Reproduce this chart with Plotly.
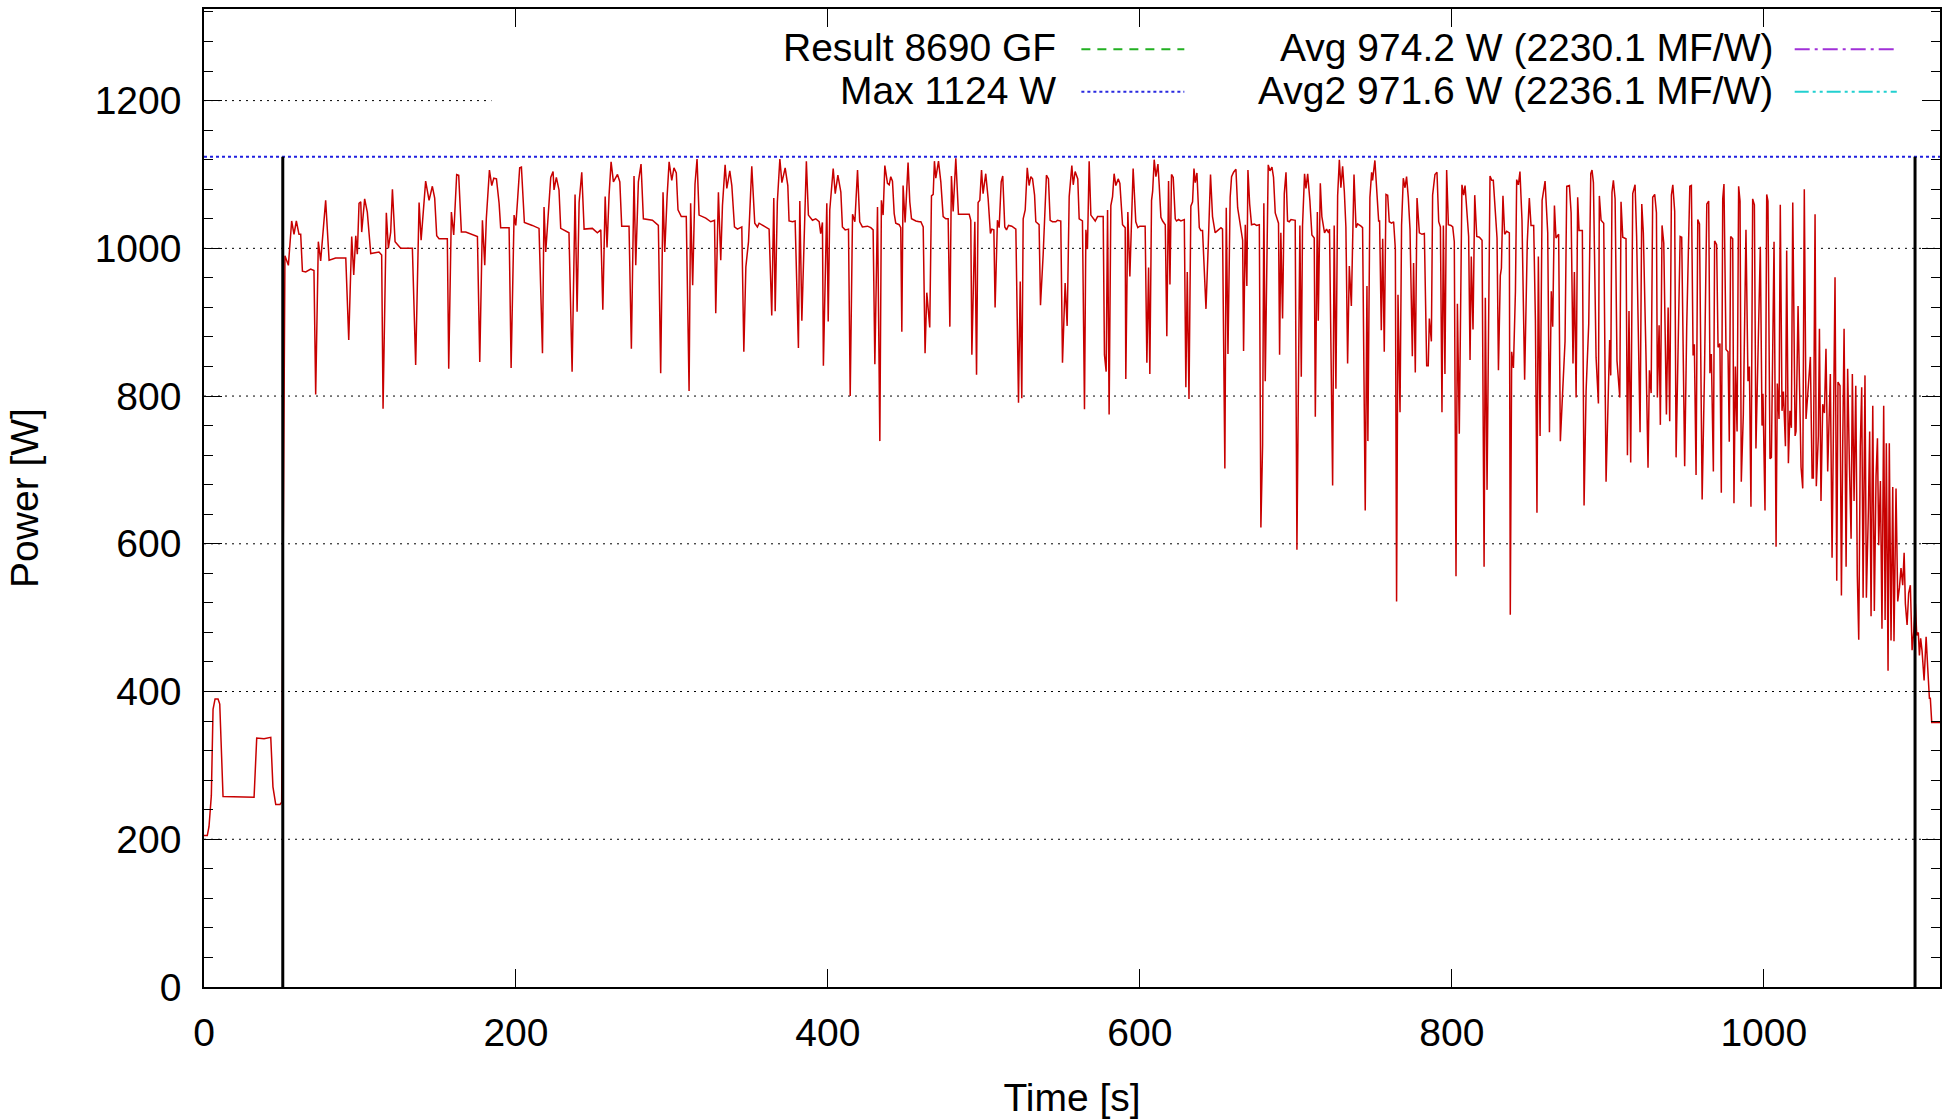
import plotly.graph_objects as go

# ---------------- data ----------------
time_s = [
    0, 2.1, 3.2, 4.7, 5.8, 7.1, 9.0, 10.1, 12.2, 32.1, 33.8, 38.5, 42.8, 44.2, 46.0, 48.7, 49.8,
    51.9, 54.1, 56.2, 57.7, 59.2, 60.9, 62.0, 63.1, 65.2, 68.4, 70.5, 71.6, 73.3, 74.8, 78.0, 80.2,
    84.4, 90.9, 92.8, 94.7, 96.0, 97.3, 98.3, 99.4, 100.5, 101.1, 103.0, 104.7, 106.9, 112.2, 113.9,
    114.8, 116.9, 118.2, 119.7, 120.8, 122.5, 126.1, 133.6, 135.7, 137.9, 139.2, 140.4, 142.1, 144.3,
    146.4, 147.9, 149.2, 150.7, 156.0, 156.9, 158.6, 160.1, 162.0, 163.3, 165.0, 167.8, 175.3, 176.8,
    178.5, 180.0, 181.0, 183.0, 184.5, 185.8, 187.5, 189.2, 190.2, 195.6, 196.9, 198.8, 199.9, 200.9,
    202.4, 203.5, 205.4, 210.5, 214.8, 217.0, 218.0, 219.1, 220.8, 222.3, 223.8, 224.4, 225.9, 227.6,
    228.7, 231.9, 234.0, 236.0, 237.9, 239.2, 240.5, 242.2, 243.7, 249.0, 252.2, 254.4, 255.7, 257.2,
    258.4, 259.7, 261.0, 262.5, 265.1, 266.6, 267.8, 272.5, 274.0, 275.7, 276.8, 278.5, 280.2, 281.7,
    287.5, 291.3, 292.8, 294.3, 295.4, 296.9, 298.2, 299.9, 301.3, 302.8, 303.9, 306.0, 309.2, 311.0,
    312.0, 313.3, 314.8, 316.1,
    317.4, 321.7, 324.9, 327.3, 328.1, 329.8, 331.3, 332.4, 334.1, 335.2, 337.1, 338.4, 340.1, 342.0,
    344.8, 346.1, 347.4, 349.1, 351.2, 353.1, 354.8, 355.9, 358.0, 360.2, 362.3, 364.0, 365.3, 366.2,
    367.6, 369.2, 370.5, 372.6, 374.3, 375.1, 377.3, 379.0, 381.1, 382.0, 383.3, 386.2, 387.5, 390.1,
    392.2, 394.4, 395.4, 396.5, 397.1, 399.3, 400.2, 401.2, 403.4, 404.7, 406.4, 408.3, 409.3, 411.1,
    413.2, 414.3, 415.8, 417.3, 419.0,
    420.4, 422.1, 425.4, 427.5, 429.0, 430.1, 431.8, 433.3, 434.3, 435.4, 436.5, 438.2, 439.3, 440.3,
    441.4, 442.5, 443.5, 445.7, 446.7, 447.4, 448.2, 449.5, 451.4, 452.5, 453.6, 456.4, 458.5, 459.6,
    461.1, 462.3, 463.4, 465.3, 466.4, 467.5, 468.3, 469.2, 470.9, 472.4, 473.9, 475.6, 477.1, 478.2,
    479.2, 480.3, 482.0, 483.7, 486.3, 490.6, 491.6, 492.3, 494.2, 495.3, 496.3, 497.4, 498.5, 499.5,
    501.2, 502.7, 504.2, 505.1, 506.4, 507.2, 508.7, 509.8, 511.1, 512.1, 513.4, 514.5, 515.8, 517.9,
    520.5, 522.2, 523.3, 524.3, 525.2, 526.5, 527.8, 529.0, 530.1, 531.2, 532.5, 533.3, 535.4, 536.3,
    538.0, 540.1, 541.4, 542.5, 544.0, 546.1, 547.2, 549.3, 550.4, 552.1, 553.4, 554.7, 556.4, 557.3,
    558.5, 560.2, 561.1, 563.2, 564.5, 565.4, 566.4, 567.5, 568.6, 571.4, 572.9, 576.5, 577.3, 578.4,
    579.3, 580.3, 581.4, 582.5, 583.5, 584.6, 586.1, 587.2, 588.9, 590.6, 591.0, 592.3, 593.6, 595.7,
    597.4, 598.7, 600.0, 601.7, 603.4, 604.5, 605.6,
    606.4, 607.5, 608.2, 609.2, 610.3, 611.6, 612.4, 613.5, 614.6, 616.3, 617.3, 618.4, 619.3, 620.3,
    621.4, 622.7, 623.5, 624.8, 626.3, 628.5, 629.5, 630.4, 631.5, 632.7, 633.8, 634.7, 635.5, 636.6,
    638.1, 639.1, 640.2, 641.3, 642.4, 643.9, 645.3, 646.6, 648.3, 649.8, 652.0, 653.0, 654.5, 655.4,
    656.5, 657.9, 658.8, 660.1, 661.6, 662.7, 664.2, 665.9, 666.5, 667.6, 668.6, 669.3, 670.4, 671.6,
    673.4, 674.8, 676.6, 677.6, 678.7, 679.5, 680.4, 682.3, 683.4, 684.7, 685.7, 686.8, 688.9, 689.6,
    690.4, 691.5, 692.6, 693.7, 694.7, 695.8, 696.9, 699.6, 700.7, 702.0, 702.6, 703.5, 704.3, 705.6,
    706.5, 707.6, 709.0, 710.3, 711.8, 712.5, 713.8, 714.4, 715.7, 716.7, 718.4, 719.7, 721.0, 721.6,
    723.6, 724.6, 725.7, 726.8, 727.9, 728.9, 730.0, 731.1, 732.1, 733.2, 734.3, 735.6, 737.3, 738.6,
    739.6, 741.8, 742.8, 744.5, 745.6, 746.2, 747.5, 748.6, 749.2, 750.7, 752.0, 753.1, 753.7, 754.8,
    755.7, 756.7, 757.8, 758.9, 759.9, 761.4, 762.7, 763.8, 764.6, 765.5, 766.8, 767.8, 768.9, 770.0,
    771.0, 772.1, 773.2, 774.7, 775.5, 776.6, 777.7, 779.2, 780.9, 782.4, 783.9, 784.9, 785.6, 786.9,
    787.7, 789.2, 790.5,
    791.6, 792.7, 793.7, 794.6, 795.6, 796.7, 797.8, 799.5, 800.6, 801.6, 802.7, 803.6, 804.8, 806.5,
    807.6, 808.5, 809.8, 810.8, 811.7, 812.5, 813.6, 814.7, 816.0, 817.7, 819.4, 820.7, 821.5, 822.6,
    824.5, 825.6, 826.6, 827.9, 829.0, 829.9, 831.1, 831.8, 832.8, 833.9, 835.2, 836.9, 837.5, 838.4,
    839.5, 840.8, 841.6, 842.7, 843.7, 845.0, 846.7, 848.4, 849.7, 850.8, 852.5, 853.6, 854.6, 855.5,
    856.6, 857.9, 859.8, 861.5, 862.6, 863.8, 864.7, 865.8, 866.8, 868.5, 869.6, 871.1, 872.6, 873.7,
    875.4, 876.5, 877.7, 878.6, 879.7, 880.7, 881.6, 883.7, 884.8, 886.1, 887.8, 889.1, 889.9, 890.8,
    892.5, 894.0, 894.6, 895.7, 897.4, 898.9, 900.4, 901.2, 901.9, 902.7, 903.6, 904.7, 905.9, 907.7,
    908.5, 909.6, 911.7, 912.6, 913.6, 914.7, 916.0, 917.5, 918.5, 920.7, 921.8, 922.8, 924.5, 925.8,
    926.7, 927.8, 928.8, 930.1, 931.2, 931.8, 932.9, 933.7, 934.8, 935.9, 937.6, 938.7, 939.7, 940.8,
    941.7, 942.9, 943.8, 945.1, 946.4, 947.4, 949.3, 950.6, 952.6, 953.6, 954.7, 955.5, 956.6, 957.7,
    958.8, 960.5, 962.0, 963.5,
    964.7, 965.5, 966.4, 967.7, 968.5, 969.8, 970.7, 971.9, 972.8, 973.7, 974.5, 975.8, 977.1, 977.9,
    978.8, 980.1, 980.9, 981.8, 982.9, 983.9, 984.8, 985.6, 986.9, 988.6, 989.9, 990.8, 991.8, 992.9,
    994.0, 995.0, 996.8, 997.8, 998.9, 999.5, 1000.8, 1001.9, 1002.7, 1004.0, 1004.9, 1006.6, 1007.9,
    1008.7, 1009.8, 1010.6, 1011.7, 1012.6, 1013.9, 1014.7, 1015.8, 1016.8, 1017.7, 1018.6, 1020.1,
    1020.7, 1022.0, 1023.9, 1025.0, 1026.0, 1027.1, 1028.2, 1029.9, 1031.0, 1031.8, 1032.9, 1033.7,
    1035.0, 1035.7, 1036.7, 1037.8, 1038.9, 1039.9, 1041.0, 1042.1, 1042.7, 1043.8, 1045.7, 1046.8,
    1047.6, 1048.9, 1049.8, 1050.6, 1051.5, 1052.8, 1053.8, 1054.9, 1056.0, 1056.8, 1057.9, 1059.0,
    1060.0, 1060.9, 1061.9, 1062.8, 1063.7, 1064.9, 1065.8, 1067.1, 1067.9, 1068.8, 1069.9, 1070.9,
    1072.0, 1072.9, 1073.7, 1074.8, 1075.8, 1076.9, 1077.8, 1078.6, 1079.7, 1080.5, 1081.6, 1082.7,
    1083.5, 1084.8, 1085.9, 1087.0, 1088.0, 1089.1, 1090.0, 1090.8, 1091.9, 1092.9, 1094.0, 1095.1,
    1096.2, 1097.2, 1098.1, 1099.1, 1099.8, 1100.6, 1101.5, 1102.8, 1104.1, 1105.1, 1106.2, 1106.8,
    1107.7, 1113.0,
]

power_w = [
    205, 205, 217, 259, 376, 390, 390, 383, 258, 257, 337, 336, 338, 271, 247, 247, 250,
    990, 977, 1037, 1019, 1037, 1019, 1019, 969, 968, 972, 970, 802, 1009, 983, 1065, 984,
    987, 987, 876, 1016, 964, 1017, 992, 1061, 1063, 1022, 1067, 1049, 993, 995, 991,
    783, 1048, 1000, 1022, 1080, 1009, 1000, 1000, 842, 1062, 1011, 1049, 1091, 1065,
    1084, 1068, 1017, 1013, 1013, 837, 1049, 1018, 1100, 1099, 1022, 1022, 1016, 846,
    1038, 977, 1040, 1106, 1085, 1095, 1094, 1061, 1028, 1028, 838, 1045, 1031, 1061,
    1109, 1110, 1035, 1031, 1027, 858, 1056, 995, 1053, 1096, 1104, 1079, 1096, 1079,
    1027, 1024, 1021, 833, 1073, 914, 1062, 1103, 1026, 1027, 1021, 1025, 917, 1070,
    1001, 1072, 1117, 1090, 1100, 1090, 1030, 1030, 864, 1098, 977, 1090, 1114, 1040,
    1038, 1031, 831, 1076, 995, 1070, 1117, 1092, 1109, 1102, 1052, 1043, 1043, 807,
    1061, 950, 1087, 1121,
    1045, 1041, 1036, 1038, 912, 1076, 984, 1058, 1113, 1081, 1105, 1085, 1029, 1026,
    1029, 860, 975, 1009, 1111, 1034, 1029, 1034, 1031, 1028, 1026, 909, 1068, 915,
    1063, 1121, 1089, 1109, 1085, 1037, 1036, 1037, 865, 1064, 902, 1118, 1045, 1038,
    1040, 1036, 1020, 1035, 841, 1061, 901, 1052, 1108, 1074, 1099, 1076, 1029, 1025,
    1026, 800, 1046, 1036, 1106,
    1036, 1029, 1030, 1028, 1025, 843, 1056, 739, 1065, 1045, 1112, 1088, 1086, 1097,
    1091, 1047, 1034, 1032, 1028, 887, 1085, 1035, 1116, 1063, 1040, 1037, 1036, 1036,
    1029, 858, 940, 893, 1071, 1073, 1118, 1095, 1118, 1090, 1043, 1040, 1040, 894,
    1098, 1050, 1122, 1046, 1046, 1046, 1038, 856, 1036, 829, 1062, 1065, 1106, 1074,
    1101, 1068, 1020, 1026, 1025, 920, 1038, 1028, 1090, 1098, 1029, 1025, 1031, 1030,
    1026, 791, 955, 797, 1040, 1052, 1109, 1085, 1097, 1094, 1072, 1036, 1032, 923,
    991, 1099, 1094, 1038, 1036, 1036, 1038, 1037, 845, 953, 895, 1070, 1112, 1086,
    1104, 1094, 1040, 1037, 782, 1025, 999, 1118, 1045, 1037, 1043, 1043, 856, 833,
    1052, 775, 1058, 1070, 1101, 1085, 1094, 1088, 1032, 1028, 823, 1049, 962, 1108,
    1036, 1028, 1030, 1030, 1030, 845, 974,
    830, 1065, 1077, 1120, 1097, 1114, 1086, 1042, 1037, 1032, 881, 1091, 951, 1100,
    1096, 1040, 1037, 1039, 1037, 1039, 812, 968, 796, 1057, 1063, 1108, 1089, 1102,
    1028, 1024, 1024, 966, 918, 1007, 1100, 1043, 1021, 1024, 1028, 1026, 702, 1055,
    857, 1069, 1097, 1103, 1107, 1055, 1032, 1011, 861, 1032, 949, 1106, 1060, 1032,
    1033, 1031, 1032, 622, 734, 1061, 820, 1113, 1105, 1110, 1096, 1048, 1034, 856,
    1021, 905, 1074, 1103, 1037, 1036, 1039, 1038, 592, 917, 1031, 826, 1031, 1101,
    1081, 1101, 1065, 1018, 1014, 772, 1049, 902, 1088, 1043, 1021, 1026, 1021, 1026,
    679, 1031, 810, 1071, 1120, 1082, 1111, 1077, 1029, 844, 976, 922, 1100, 1028,
    1033, 1030, 1028, 645, 949, 739, 1069, 1103, 1092, 1119, 1077, 1037, 1037, 889,
    1013, 860, 1073, 1072, 1036, 1034, 1036, 999, 522, 937, 778, 1031, 1095, 1082,
    1097, 1069, 1026, 854, 980, 832, 1068, 1021, 1019, 1020, 841, 841, 905, 874,
    1072, 1100, 1103,
    1036, 1029, 778, 1031, 830, 1106, 1032, 1031, 1029, 1009, 556, 925, 749, 1086,
    1072, 1085, 1038, 1016, 849, 989, 890, 1072, 1016, 1015, 1011, 569, 933, 673,
    1098, 1092, 1092, 1040, 1014, 835, 963, 973, 1071, 1019, 1023, 1021, 504, 860,
    838, 942, 1093, 1086, 1104, 1038, 822, 1009, 1068, 1031, 1031, 903, 642, 989,
    746, 1065, 1091, 1021, 751, 942, 894, 1058, 1014, 1019, 739, 807, 874, 1084,
    1085, 1048, 844, 968, 798, 1069, 1024, 1024, 652, 807, 898, 1101, 1106, 1089,
    852, 790, 1071, 1038, 1034, 684, 802, 876, 828, 1076, 1092, 1067, 848, 798,
    1063, 1015, 1013, 720, 915, 710, 1074, 1086, 1016, 751, 1060, 1021, 855, 703,
    835, 804, 1069, 1073, 1048, 798, 896, 761, 1031, 1007, 775, 920, 766, 1072,
    1086, 1050, 717, 867, 1016, 1015, 705, 893, 1084, 1085, 855, 870, 693, 1039,
    1033, 660, 831, 1060,
    1064, 831, 857, 698, 1010, 1005, 866, 871, 669, 1067, 1087, 863, 860, 738,
    1016, 1013, 655, 840, 752, 1084, 1064, 684, 775, 1025, 820, 840, 650, 1067,
    1059, 729, 894, 1002, 760, 803, 645, 1073, 1064, 715, 717, 1009, 596,
    817, 769, 1059, 780, 806, 732, 997, 709, 780, 757, 1062, 746,
    752, 922, 704, 675, 1080, 769, 803, 853, 689, 689, 1046, 678,
    746, 891, 658, 789, 777, 864, 698, 806, 830, 581, 961, 550,
    819, 814, 530, 726, 891, 569, 837, 709, 607, 830, 658, 814,
    556, 470, 732, 812, 527, 828, 527, 647, 752, 502, 787, 509,
    692, 743, 598, 685, 485, 787, 497, 736, 428, 736, 469, 677,
    468, 675, 522, 541, 567, 544, 588, 519, 490, 533, 544, 456,
    482, 519, 476, 480, 449, 472, 455, 415, 474, 433, 391, 391,
    358, 358,
]

x_range = [0, 1113]
y_range = [0, 1324]
x_tick_values = [0, 200, 400, 600, 800, 1000]
y_tick_values = [0, 200, 400, 600, 800, 1000, 1200]
max_power_w = 1124
interval_start_s = 50.5
interval_end_s = 1097
legend_labels = [
    "Result 8690 GF",
    "Max 1124 W",
    "Avg 974.2 W (2230.1 MF/W)",
    "Avg2 971.6 W (2236.1 MF/W)",
]

FONT = "Liberation Sans, Arial, Helvetica, sans-serif"
FS = 39

fig = go.Figure()

# power trace
fig.add_trace(go.Scatter(
    x=time_s, y=power_w, mode="lines",
    line=dict(color="#c80000", width=1.5),
    showlegend=False, hoverinfo="skip",
))

# max line
fig.add_trace(go.Scatter(
    x=x_range, y=[max_power_w, max_power_w], mode="lines",
    line=dict(color="#2020e0", width=1.8, dash="3px,3px"),
    showlegend=False, hoverinfo="skip",
))

# measurement interval markers
for xv in (interval_start_s, interval_end_s):
    fig.add_trace(go.Scatter(
        x=[xv, xv], y=[0, max_power_w], mode="lines",
        line=dict(color="black", width=3),
        showlegend=False, hoverinfo="skip",
    ))

shapes = []
# dotted horizontal grid at the major y ticks (drawn below the data)
for yv in y_tick_values[1:]:
    shapes.append(dict(type="line", xref="paper", yref="y",
                       x0=0, x1=1, y0=yv, y1=yv, layer="below",
                       line=dict(color="black", width=1, dash="2px,5px")))
# opaque key box covering the grid beneath it
shapes.append(dict(type="rect", xref="paper", yref="paper",
                   x0=0.1656, x1=0.999, y0=0.8898, y1=0.999,
                   fillcolor="white", line=dict(width=0), layer="below"))

# key samples
row_y = [0.9602, 0.9166]
col_text_x = [0.4918, 0.9050]
col_sample = [(0.5054, 0.5647), (0.9163, 0.9751)]
sample_styles = [
    dict(color="#22b022", width=2, dash="9px,7px"),
    dict(color="#2a2ae0", width=2, dash="3px,3px"),
    dict(color="#a030d8", width=2, dash="15px,5px,3px,5px"),
    dict(color="#22d0d0", width=2, dash="14px,4px,3px,4px,3px,4px"),
]
annotations = []
for i, label in enumerate(legend_labels):
    col = i // 2
    row = i % 2
    annotations.append(dict(
        x=col_text_x[col], y=row_y[row], xref="paper", yref="paper",
        text=label, showarrow=False, xanchor="right", yanchor="middle",
        font=dict(family=FONT, size=FS, color="black"),
    ))
    x0, x1 = col_sample[col]
    shapes.append(dict(type="line", xref="paper", yref="paper",
                       x0=x0, x1=x1, y0=row_y[row] - 0.0013, y1=row_y[row] - 0.0013,
                       line=sample_styles[i]))

fig.update_layout(
    width=1951, height=1120,
    margin=dict(l=204, r=11, t=7, b=133),
    paper_bgcolor="white", plot_bgcolor="white",
    font=dict(family=FONT, size=FS, color="black"),
    shapes=shapes, annotations=annotations,
    showlegend=False,
)

fig.update_xaxes(
    range=x_range, tickvals=x_tick_values,
    ticks="inside", ticklen=18, tickwidth=1, tickcolor="black",
    showline=True, linecolor="black", linewidth=1.5, mirror="ticks",
    showgrid=False, zeroline=False,
    tickfont=dict(family=FONT, size=FS, color="black"),
    ticklabelstandoff=10,
    title=dict(text="Time [s]", font=dict(family=FONT, size=FS, color="black"), standoff=31),
)
fig.update_yaxes(
    range=y_range, tickvals=y_tick_values,
    ticks="inside", ticklen=18, tickwidth=1, tickcolor="black",
    minor=dict(ticks="inside", ticklen=9, tickwidth=1, tickcolor="black", dtick=40, showgrid=False),
    showline=True, linecolor="black", linewidth=1.5, mirror="ticks",
    showgrid=False, zeroline=False,
    tickfont=dict(family=FONT, size=FS, color="black"),
    ticklabelstandoff=13,
    title=dict(text="Power [W]", font=dict(family=FONT, size=FS, color="black"), standoff=44),
)

fig.write_html("out.html")
